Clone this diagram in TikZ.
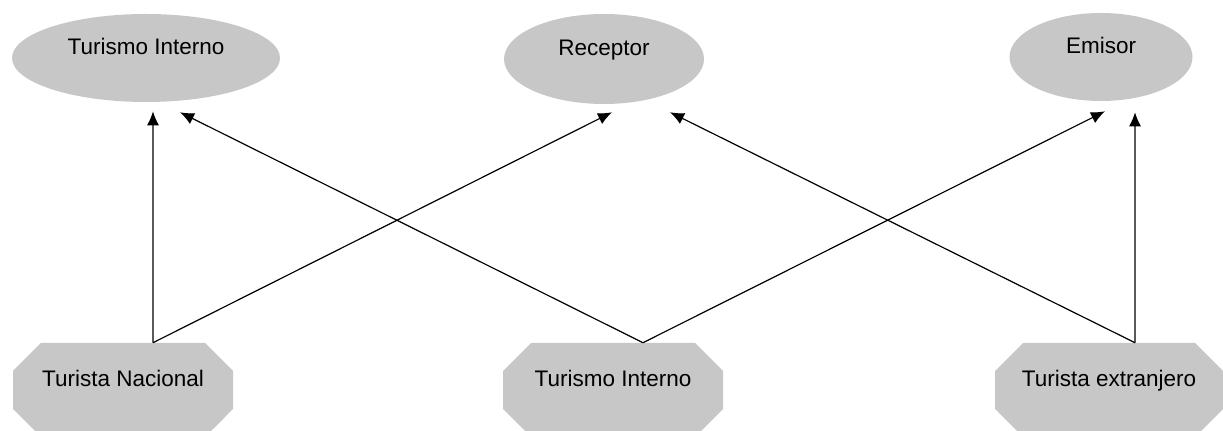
\documentclass[tikz,border=0pt]{standalone}
\usepackage{fontspec}
\setmainfont{Liberation Sans}
\usetikzlibrary{shapes.geometric,shapes.misc,arrows.meta}

\begin{document}
\begin{tikzpicture}[
    tipo/.style={ellipse,fill=black!22,inner sep=0pt,text height=0.4cm,text depth=0.55cm,font=\fontsize{16}{18}\selectfont},
    turista/.style={chamfered rectangle,chamfered rectangle xsep=0.35cm,chamfered rectangle ysep=0.35cm,fill=black!22,inner sep=0pt,minimum height=2.35cm,text height=0.4cm,text depth=0.55cm,font=\fontsize{16}{18}\selectfont},
    flecha/.style={-{Latex[length=0.35cm,width=0.3cm]},line width=0.85pt,black}]
    \useasboundingbox (0,0) rectangle (30.575,10.775);
    \clip (0,0) rectangle (30.575,10.775);
    % destinos
    \node[tipo,minimum width=6.7cm,minimum height=2.2cm] (ti) at (3.65,9.325) {Turismo Interno};
    \node[tipo,minimum width=5cm,minimum height=2.25cm] (rec) at (15.1,9.3) {Receptor};
    \node[tipo,minimum width=4.575cm,minimum height=2.2cm] (emi) at (27.525,9.35) {Emisor};
    % origenes
    \node[turista,minimum width=5.5cm] (tn) at (3.075,1.025) {Turista Nacional};
    \node[turista,minimum width=5.5cm] (tin) at (15.325,1.025) {Turismo Interno};
    \node[turista,minimum width=5.7cm] (tex) at (27.725,1.025) {Turista extranjero};
    % puntos de salida y llegada
    \coordinate (tnA) at ([xshift=0.75cm]tn.north);
    \coordinate (tinA) at ([xshift=0.75cm]tin.north);
    \coordinate (texA) at ([xshift=0.65cm]tex.north);
    \coordinate (ti1) at ([xshift=0.175cm,yshift=-0.225cm]ti.south);
    \coordinate (ti2) at ([xshift=0.85cm,yshift=-0.25cm]ti.south);
    \coordinate (rec1) at ([xshift=0.2cm,yshift=-0.2cm]rec.south);
    \coordinate (rec2) at ([xshift=1.65cm,yshift=-0.2cm]rec.south);
    \coordinate (emi1) at ([xshift=0.1cm,yshift=-0.25cm]emi.south);
    \coordinate (emi2) at ([xshift=0.85cm,yshift=-0.275cm]emi.south);
    \draw[flecha] (tnA) -- (ti1);
    \draw[flecha] (tnA) -- (rec1);
    \draw[flecha] (tinA) -- (ti2);
    \draw[flecha] (tinA) -- (emi1);
    \draw[flecha] (texA) -- (rec2);
    \draw[flecha] (texA) -- (emi2);
\end{tikzpicture}
\end{document}
